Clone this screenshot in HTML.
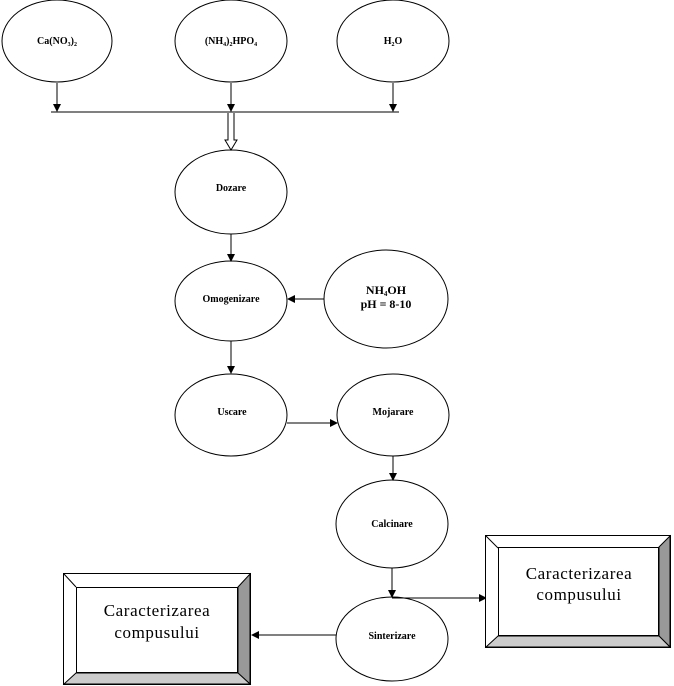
<!DOCTYPE html>
<html><head><style>html,body{margin:0;padding:0;background:#fff}svg{display:block}</style></head>
<body>
<svg width="674" height="686" xmlns="http://www.w3.org/2000/svg" font-family="Liberation Serif, serif">
<defs>
<marker id="a" markerWidth="8" markerHeight="8" refX="7" refY="4" orient="auto" markerUnits="userSpaceOnUse"><path d="M0,0 L8,4 L0,8 z" fill="#000"/></marker>
</defs>
<g fill="#fff" stroke="#000" stroke-width="1">
<ellipse cx="57" cy="41" rx="55" ry="41"/>
<ellipse cx="231" cy="41" rx="56" ry="41"/>
<ellipse cx="393" cy="41" rx="56" ry="41"/>
<ellipse cx="231" cy="192" rx="56" ry="42"/>
<ellipse cx="231" cy="301" rx="56" ry="40"/>
<ellipse cx="386" cy="299" rx="62" ry="49"/>
<ellipse cx="231" cy="415" rx="56" ry="41"/>
<ellipse cx="393" cy="415" rx="56" ry="41"/>
<ellipse cx="392" cy="524" rx="56" ry="44"/>
<ellipse cx="392" cy="639" rx="56" ry="42"/>
</g>
<g stroke="#000" stroke-width="1" fill="none">
<line x1="57" y1="83" x2="57" y2="111" marker-end="url(#a)"/>
<line x1="231" y1="83" x2="231" y2="111" marker-end="url(#a)"/>
<line x1="393" y1="83" x2="393" y2="111" marker-end="url(#a)"/>
<line x1="51" y1="112" x2="399" y2="112"/>
<path d="M228,113 L228,140 L225,140 L231,150 L237,140 L234,140 L234,113" fill="#fff"/>
<line x1="231" y1="234" x2="231" y2="261" marker-end="url(#a)"/>
<line x1="324" y1="299" x2="288" y2="299" marker-end="url(#a)"/>
<line x1="231" y1="341" x2="231" y2="373" marker-end="url(#a)"/>
<line x1="287" y1="423" x2="337" y2="423" marker-end="url(#a)"/>
<line x1="393" y1="456" x2="393" y2="480" marker-end="url(#a)"/>
<line x1="392" y1="568" x2="392" y2="597" marker-end="url(#a)"/>
<line x1="392" y1="598" x2="486" y2="598" marker-end="url(#a)"/>
<line x1="336" y1="635" x2="252" y2="635" marker-end="url(#a)"/>
</g>
<g stroke="#000" stroke-width="1">
<rect x="485.5" y="535.5" width="185" height="112" fill="#fff"/>
<polygon points="659,547 670,536 670,647 659,636" fill="#999"/>
<polygon points="498,636 659,636 670,647 486,647" fill="#ccc"/>
<line x1="486" y1="536" x2="498" y2="548"/>
<rect x="498.5" y="547.5" width="160" height="88" fill="#fff"/>
</g>
<g stroke="#000" stroke-width="1">
<rect x="63.5" y="573.5" width="187" height="111" fill="#fff"/>
<polygon points="238,587 250,574 250,684 238,673" fill="#999"/>
<polygon points="76,673 238,673 250,684 64,684" fill="#ccc"/>
<line x1="64" y1="574" x2="76" y2="587"/>
<rect x="76.5" y="587.5" width="161" height="85" fill="#fff"/>
</g>
<g font-weight="bold" font-size="10" text-anchor="middle" fill="#000">
<text x="57" y="44">Ca(NO<tspan font-size="6" dy="2">3</tspan><tspan dy="-2">)</tspan><tspan font-size="6" dy="2">2</tspan></text>
<text x="231" y="44">(NH<tspan font-size="6" dy="2">4</tspan><tspan dy="-2">)</tspan><tspan font-size="6" dy="2">2</tspan><tspan dy="-2">HPO</tspan><tspan font-size="6" dy="2">4</tspan></text>
<text x="393" y="44">H<tspan font-size="6" dy="2">2</tspan><tspan dy="-2">O</tspan></text>
<text x="231" y="191">Dozare</text>
<text x="231" y="302">Omogenizare</text>
<text x="232" y="415">Uscare</text>
<text x="393" y="415">Mojarare</text>
<text x="392" y="527">Calcinare</text>
<text x="392" y="639">Sinterizare</text>
<text x="386" y="294" font-size="12">NH<tspan font-size="7" dy="2">4</tspan><tspan dy="-2">OH</tspan></text>
<text x="386" y="308" font-size="12">pH = 8-10</text>
</g>
<g font-size="17" letter-spacing="0.6" text-anchor="middle" fill="#000">
<text x="579" y="579">Caracterizarea</text>
<text x="579" y="600">compusului</text>
<text x="157" y="616">Caracterizarea</text>
<text x="157" y="638">compusului</text>
</g>
</svg>
</body></html>
